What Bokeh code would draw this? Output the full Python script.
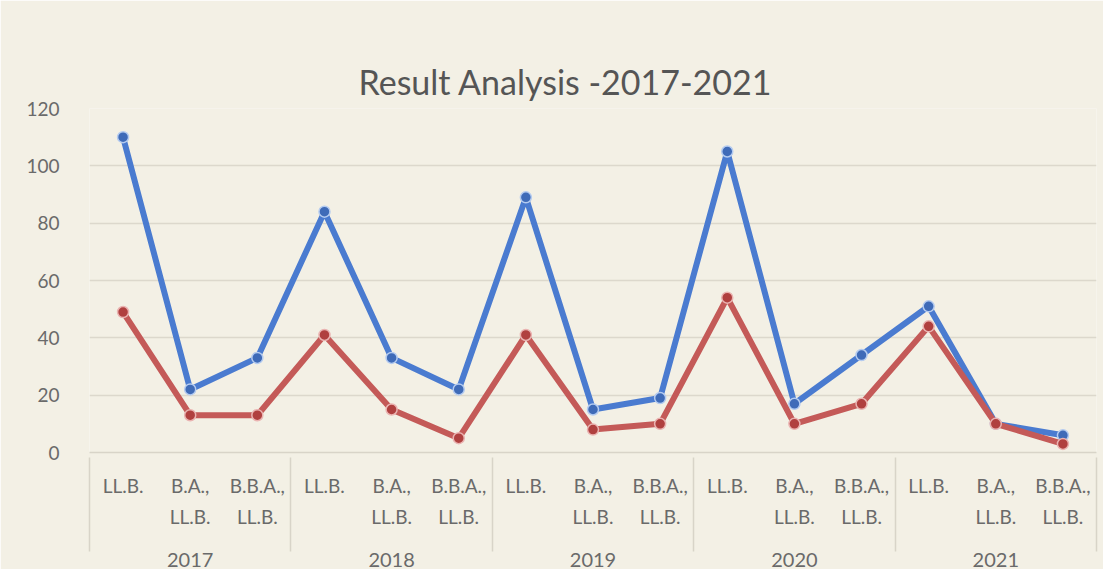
from bokeh.plotting import figure
from bokeh.models import Range1d, FixedTicker, LinearAxis, Title
from bokeh.embed import file_html
from bokeh.resources import INLINE

years = ["2017", "2018", "2019", "2020", "2021"]
programs = ["LL.B.", "B.A.,\nLL.B.", "B.B.A.,\nLL.B."]
series_blue = [110, 22, 33, 84, 33, 22, 89, 15, 19, 105, 17, 34, 51, 10, 6]
series_red = [49, 13, 13, 41, 15, 5, 41, 8, 10, 54, 10, 17, 44, 10, 3]
y_ticks = [0, 20, 40, 60, 80, 100, 120]

# category slots: each (year, program) occupies 2 units, point at its centre
n_prog = len(programs)
labels = [pr for _ in years for pr in programs]
xpos = [2 * i + 1 for i in range(len(labels))]
year_centres = [2 * n_prog * k + n_prog for k in range(len(years))]
year_bounds = [2 * n_prog * k for k in range(len(years) + 1)]

FONT = "Lato"
BG = "#f3f0e5"
TXT = "#6a6a6a"
RULE = "#d8d4c8"

p = figure(width=1103, height=569, output_backend="svg", toolbar_location=None,
           x_range=Range1d(0, 2 * len(labels)),
           y_range=Range1d(0, 120),
           title=None)

xa = p.below[0]
yax = p.left[0]

p.background_fill_color = BG
p.border_fill_color = BG
p.outline_line_color = None
p.min_border_left = 89
p.min_border_right = 7
p.min_border_top = 108
p.min_border_bottom = 0

# empty spacer between the frame and the title
spacer = LinearAxis(ticker=FixedTicker(ticks=[], minor_ticks=[]))
spacer.axis_line_color = None
spacer.major_tick_line_color = None
spacer.minor_tick_line_color = None
spacer.major_label_text_color = None
spacer.major_tick_in = 0
spacer.major_tick_out = 47
spacer.minor_tick_in = 0
spacer.minor_tick_out = 0
spacer.major_label_standoff = 0
p.add_layout(spacer, "above")

title = Title(text="Result Analysis -2017-2021", align="left", offset=269,
              vertical_align="top", standoff=10, text_font=FONT,
              text_font_size="34px", text_font_style="normal",
              text_color="#555555")
p.add_layout(title, "above")

p.xgrid.grid_line_color = None
p.ygrid.grid_line_color = "#dcd8cc"
p.ygrid.grid_line_width = 1.5

yax.ticker = FixedTicker(ticks=y_ticks)
yax.axis_line_color = None
yax.major_tick_line_color = None
yax.minor_tick_line_color = None
yax.major_label_text_font = FONT
yax.major_label_text_font_size = "19px"
yax.major_label_text_color = TXT
yax.major_label_standoff = 24

# program labels
xa.ticker = FixedTicker(ticks=xpos, minor_ticks=[])
xa.major_label_overrides = {x: lab for x, lab in zip(xpos, labels)}
xa.axis_line_color = RULE
xa.axis_line_width = 1.5
xa.major_tick_line_color = None
xa.minor_tick_line_color = None
xa.major_tick_out = 0
xa.major_tick_in = 0
xa.minor_tick_out = 0
xa.major_label_text_font = FONT
xa.major_label_text_font_size = "19px"
xa.major_label_text_color = TXT
xa.major_label_text_line_height = 1.35
xa.major_label_standoff = 21

# year labels + table separators
ya = LinearAxis()
ya.ticker = FixedTicker(ticks=year_centres, minor_ticks=year_bounds)
ya.major_label_overrides = {x: y for x, y in zip(year_centres, years)}
ya.axis_line_color = None
ya.major_tick_line_color = None
ya.major_tick_out = 0
ya.major_tick_in = 0
ya.minor_tick_line_color = RULE
ya.minor_tick_line_width = 1.5
ya.minor_tick_in = 73
ya.minor_tick_out = 21
ya.major_label_text_font = FONT
ya.major_label_text_font_size = "20px"
ya.major_label_text_color = TXT
ya.major_label_standoff = 1
p.add_layout(ya, "below")

p.line(x=xpos, y=series_blue, line_color="#4a7bd0", line_width=6)
p.scatter(x=xpos, y=series_blue, size=11, fill_color="#3f6bb8",
          line_color="#b4cbf0", line_width=1.5)

p.line(x=xpos, y=series_red, line_color="#c45a58", line_width=6)
p.scatter(x=xpos, y=series_red, size=11, fill_color="#b0403f",
          line_color="#eab3b1", line_width=1.5)

open("out.html", "w").write(file_html(p, INLINE))
